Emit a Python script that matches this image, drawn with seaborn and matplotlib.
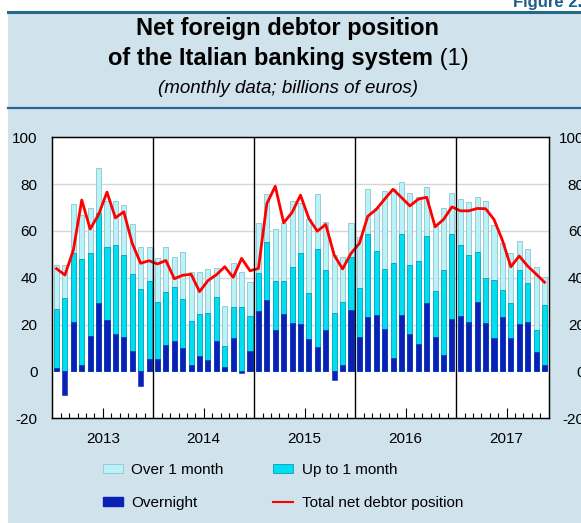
import numpy as np
import pandas as pd
import matplotlib
matplotlib.use("Agg")
import matplotlib.pyplot as plt
import seaborn as sns
from matplotlib.patches import Patch, Rectangle
from matplotlib.lines import Line2D

# ---------------- data (billions of euros, monthly Jan 2013 - Nov 2017) -------------
years = ["2013", "2014", "2015", "2016", "2017"]
overnight = [1.6, -10.2, 21.3, 2.8, 15.3, 29.1, 22.0, 16.1, 14.9, 8.9, -6.4, 5.5,
             5.5, 11.1, 12.8, 10.1, 2.8, 6.8, 5.1, 13.2, 2.1, 14.2, -0.7, 8.9,
             25.9, 30.5, 17.5, 24.6, 20.5, 20.3, 13.9, 10.5, 17.8, -3.8, 2.8, 26.3,
             14.9, 23.4, 24.1, 18.2, 5.8, 24.1, 16.2, 11.9, 29.4, 14.9, 7.2, 22.2,
             23.7, 21.3, 29.8, 20.9, 14.1, 23.3, 14.5, 20.3, 21.3, 8.1, 2.6]
up_to_1m = [25.1, 31.5, 29.4, 45.1, 35.1, 38.7, 31.3, 37.7, 34.7, 32.6, 35.1, 33.3,
            24.0, 23.0, 23.4, 20.7, 18.6, 17.6, 19.9, 18.8, 8.8, 13.5, 27.4, 15.0,
            16.0, 24.6, 21.1, 14.0, 24.1, 30.4, 19.5, 41.6, 25.5, 24.9, 27.0, 22.4,
            20.9, 35.5, 27.5, 25.7, 40.4, 34.7, 29.1, 35.4, 28.3, 19.5, 36.0, 36.7,
            30.4, 28.4, 21.1, 19.2, 25.0, 11.6, 14.9, 23.2, 16.5, 9.8, 25.8]
over_1m = [18.6, 14.1, 21.0, 18.9, 19.6, 19.3, 19.3, 18.8, 21.3, 21.3, 18.2, 14.5,
           18.8, 19.2, 12.5, 20.1, 21.2, 17.9, 18.6, 12.3, 17.1, 18.7, 14.9, 14.2,
           21.7, 20.5, 22.1, 24.6, 28.1, 21.3, 31.9, 23.5, 20.6, 24.8, 19.2, 14.5,
           21.7, 18.9, 18.4, 33.1, 31.9, 21.9, 31.1, 27.1, 20.9, 27.7, 26.4, 17.1,
           19.5, 22.5, 23.4, 32.9, 23.3, 19.8, 21.0, 12.2, 14.5, 26.8, 12.1]
total = [43.9, 41.2, 51.8, 73.2, 60.8, 67.0, 76.6, 65.6, 68.2, 54.7, 46.2, 47.3,
         45.9, 47.4, 39.6, 41.1, 41.5, 34.1, 38.8, 41.3, 44.7, 40.2, 48.3, 43.0,
         44.0, 71.7, 79.1, 63.5, 67.9, 75.3, 65.3, 59.9, 62.8, 49.7, 43.8, 50.4,
         54.7, 66.3, 69.2, 73.6, 77.8, 74.3, 70.7, 73.6, 74.4, 61.8, 64.9, 70.3,
         68.6, 68.6, 69.6, 69.5, 64.9, 56.0, 44.7, 49.3, 45.0, 41.6, 38.1]
yticks = [-20, 0, 20, 40, 60, 80, 100]

labels = ["Over 1 month", "Up to 1 month", "Overnight", "Total net debtor position"]

# ---------------- styling -------------
C_OVER = "#b9f3fa"
C_OVER_E = "#9cc9d2"
C_UP = "#00def2"
C_UP_E = "#12a9c2"
C_ON = "#0a20b6"
C_LINE = "#ff0000"
C_BG = "#d0e2ec"
C_RULE = "#24698c"

n = len(overnight)
months = list(pd.period_range("2013-01", periods=n, freq="M").strftime("%Y-%m"))
ov = np.array(overnight)
up_top = np.clip(ov, 0, None) + np.array(up_to_1m)
over_top = up_top + np.array(over_1m)
df = pd.DataFrame({"month": months, "over_top": over_top, "up_top": up_top,
                   "overnight": ov, "total": total, "pos": np.arange(n)})

W, H = 581, 523
fig = plt.figure(figsize=(W / 100, H / 100), dpi=100)
fig.patch.set_facecolor("white")
fig.patches.append(Rectangle((8 / W, 0), 1 - 8 / W, 1 - 12 / H, transform=fig.transFigure,
                             facecolor=C_BG, edgecolor="none", zorder=-10))
fig.lines.append(Line2D([8 / W, 1], [1 - 12 / H] * 2, transform=fig.transFigure,
                        color=C_RULE, lw=2.2))
fig.lines.append(Line2D([8 / W, 1], [1 - 107.5 / H] * 2, transform=fig.transFigure,
                        color=C_RULE, lw=1.6))

plt.rcParams["font.family"] = ["Liberation Sans", "DejaVu Sans"]

fig.text(582 / W, 1 - 7 / H, "Figure 2.", ha="right", va="baseline", fontsize=12,
         weight="bold", color="#1d5e8c")

# title
cx = 288 / W
fig.text(cx, 1 - 35 / H, "Net foreign debtor position", ha="center", va="baseline",
         fontsize=17, weight="bold")
t1 = fig.text(0, 1 - 65 / H, "of the Italian banking system", ha="left", va="baseline",
              fontsize=17, weight="bold")
t2 = fig.text(0, 1 - 65 / H, " (1)", ha="left", va="baseline", fontsize=17)
r = fig.canvas.get_renderer()
w1 = t1.get_window_extent(r).width / W
w2 = t2.get_window_extent(r).width / W
t1.set_x(cx - (w1 + w2) / 2)
t2.set_x(cx - (w1 + w2) / 2 + w1)
fig.text(cx, 1 - 93 / H, "(monthly data; billions of euros)", ha="center", va="baseline",
         fontsize=13.5, style="italic")

# axes
ax = fig.add_axes([52.3 / W, 1 - 418.3 / H, (548.7 - 52.3) / W, (418.3 - 137.3) / H])
ax.set_facecolor("white")
for yv in [20, 40, 60, 80]:
    ax.axhline(yv, color="#d6d6d6", lw=1.0, zorder=0)

bar_kw = dict(width=0.6, saturation=1, errorbar=None, ax=ax, zorder=2)
sns.barplot(data=df, x="month", y="over_top", color=C_OVER, edgecolor=C_OVER_E,
            linewidth=0.7, **bar_kw)
sns.barplot(data=df, x="month", y="up_top", color=C_UP, edgecolor=C_UP_E,
            linewidth=0.7, **bar_kw)
sns.barplot(data=df, x="month", y="overnight", color=C_ON, edgecolor=C_ON,
            linewidth=0.4, **bar_kw)
sns.lineplot(data=df, x="pos", y="total", color=C_LINE, lw=2.0, ax=ax, zorder=4)

for k in range(1, len(years)):
    ax.axvline(12 * k - 0.5, color="black", lw=1.0, zorder=5)

ax.set_xlim(-0.5, n - 0.5)
ax.set_ylim(-20, 100)
ax.set_xlabel("")
ax.set_ylabel("")

ax.set_xticks([12 * i + 5.5 for i in range(len(years))])
ax.set_xticklabels(years)
ax.set_xticks([k - 0.5 for k in range(1, n) if k % 12 not in (0, 6)], minor=True)
ax.tick_params(axis="x", which="major", direction="in", length=7, width=0.8,
               labelsize=11, pad=10, top=False)
ax.tick_params(axis="x", which="minor", direction="in", length=3.5, width=0.8, top=False)

ax.set_yticks(yticks)
ax.set_yticklabels([str(v) for v in yticks])
ax.tick_params(axis="y", length=0, labelsize=11, pad=10.5)

ax2 = ax.twinx()
ax2.set_ylim(-20, 100)
ax2.set_yticks(yticks)
ax2.set_yticklabels([str(v) for v in yticks])
ax2.tick_params(axis="y", length=0, labelsize=11, pad=26)
for lab in ax2.get_yticklabels():
    lab.set_ha("right")

for a in (ax, ax2):
    for s in a.spines.values():
        s.set_color("black")
        s.set_linewidth(0.9)

handles = [Patch(facecolor=C_OVER, edgecolor=C_OVER_E, lw=0.7),
           Patch(facecolor=C_ON, edgecolor=C_ON),
           Patch(facecolor=C_UP, edgecolor=C_UP_E, lw=0.7),
           Line2D([], [], color=C_LINE, lw=1.5)]
hl = [labels[0], labels[2], labels[1], labels[3]]
fig.legend(handles, hl, ncol=2, loc="upper left", bbox_to_anchor=(103 / W, 1 - 463 / H),
           frameon=False, fontsize=11, handlelength=1.3, handleheight=0.55,
           handletextpad=0.55, columnspacing=3.25, labelspacing=1.25, borderpad=0,
           borderaxespad=0)

fig.savefig("out.png", dpi=100, facecolor=fig.get_facecolor())
